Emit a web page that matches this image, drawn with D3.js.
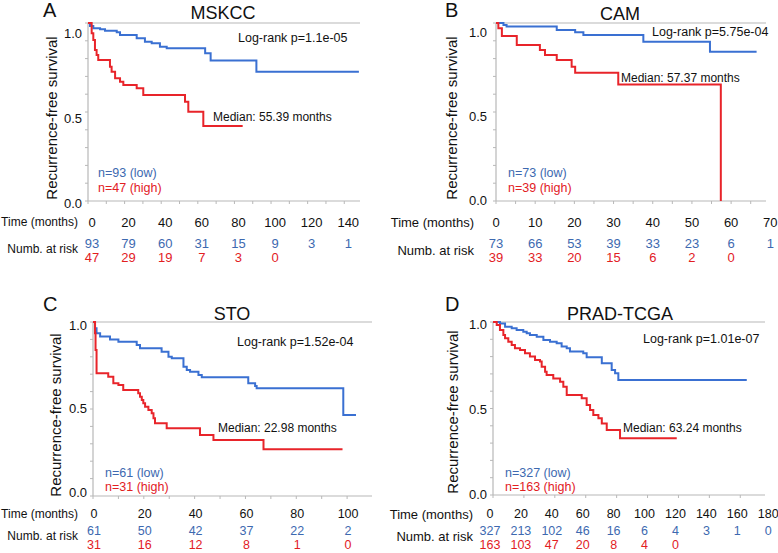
<!DOCTYPE html>
<html>
<head>
<meta charset="utf-8">
<script src="https://cdn.jsdelivr.net/npm/d3@7"></script>
<style>
  body { margin: 0; background: #fff; }
  svg { display: block; font-family: "Liberation Sans", Arial, sans-serif; }
</style>
</head>
<body>
<svg id="chart" width="778" height="553"></svg>
<script>
// ---------------- data ----------------
// survival curves: [months, survival]
const mskccLow = [[0,1],[1.1,0.983],[2.9,0.971],[6.6,0.965],[9.3,0.957],[15.7,0.948],[17.5,0.933],[26.6,0.914],[31.1,0.895],[34.8,0.886],[39.3,0.867],[43,0.858],[64,0.83],[67,0.79],[92,0.726],[148,0.726]];
const mskccHigh = [[0,1],[2.0,0.942],[2.9,0.904],[3.8,0.848],[4.7,0.82],[5.6,0.792],[12,0.754],[12.9,0.726],[14.8,0.689],[17.5,0.67],[19.3,0.652],[26.6,0.633],[30.2,0.596],[53,0.558],[54.8,0.502],[63,0.421],[84.5,0.421]];

const camLow = [[0,1],[1.9,0.989],[2.7,0.98],[15.5,0.961],[20.2,0.948],[22.3,0.933],[37.6,0.895],[54.6,0.839],[66.5,0.839]];
const camHigh = [[0,1],[0.6,0.971],[1.5,0.927],[5.3,0.876],[11.2,0.848],[12.5,0.82],[15.5,0.792],[19.3,0.754],[20.2,0.72],[31.2,0.655],[57.37,0],[57.37,0]];

const stoLow = [[0,1],[0.8,0.964],[1.4,0.935],[2.8,0.916],[6.7,0.9],[10,0.887],[17.2,0.868],[18.5,0.849],[27,0.829],[29.7,0.801],[31,0.791],[35.6,0.743],[36.9,0.724],[38.2,0.714],[41.5,0.695],[42.8,0.682],[61.1,0.648],[63.8,0.632],[64.4,0.619],[98.5,0.466],[103.5,0.466]];
const stoHigh = [[0,1],[0.8,0.935],[1.0,0.839],[1.4,0.705],[6.0,0.686],[8.0,0.648],[10,0.638],[11.9,0.609],[17.8,0.59],[18.5,0.571],[19.2,0.552],[19.8,0.533],[20.5,0.513],[21.8,0.494],[23.1,0.475],[23.8,0.447],[24.4,0.418],[29,0.389],[42.1,0.351],[47.4,0.322],[67.1,0.268],[98.2,0.268]];

const tcgaLow = [[0,1],[4.5,0.992],[7.8,0.973],[12.1,0.964],[15.3,0.954],[19.6,0.944],[21.8,0.935],[23.9,0.925],[28.3,0.915],[32.6,0.896],[36.9,0.886],[41.2,0.877],[44.4,0.858],[47.7,0.848],[49.8,0.829],[58.4,0.819],[60.6,0.796],[70.4,0.761],[76.8,0.723],[79,0.704],[81.1,0.665],[164.2,0.665]];
const tcgaHigh = [[0,1],[2.4,0.983],[4.5,0.954],[6.7,0.925],[7.8,0.906],[9.9,0.886],[12.1,0.867],[14.2,0.848],[17.5,0.838],[20.7,0.819],[23.9,0.8],[27.2,0.78],[30.4,0.771],[31.5,0.742],[33.7,0.713],[34.7,0.694],[39,0.674],[43.4,0.655],[45.5,0.626],[47.7,0.578],[57.4,0.559],[60.6,0.52],[62.8,0.491],[64.9,0.462],[68.2,0.443],[70.4,0.414],[73.6,0.376],[82.2,0.328],[118.9,0.328]];

// time ticks and numbers at risk
const timeTicksA = [0, 20, 40, 60, 80, 100, 120, 140];
const riskLowA = [93, 79, 60, 31, 15, 9, 3, 1];
const riskHighA = [47, 29, 19, 7, 3, 0];

const timeTicksB = [0, 10, 20, 30, 40, 50, 60, 70];
const riskLowB = [73, 66, 53, 39, 33, 23, 6, 1];
const riskHighB = [39, 33, 20, 15, 6, 2, 0];

const timeTicksC = [0, 20, 40, 60, 80, 100];
const riskLowC = [61, 50, 42, 37, 22, 2];
const riskHighC = [31, 16, 12, 8, 1, 0];

const timeTicksD = [0, 20, 40, 60, 80, 100, 120, 140, 160, 180];
const riskLowD = [327, 213, 102, 46, 16, 6, 4, 3, 1, 0];
const riskHighD = [163, 103, 47, 20, 8, 4, 0];

const panelLetters = ["A", "B", "C", "D"];
const panelTitles = ["MSKCC", "CAM", "STO", "PRAD-TCGA"];
const logRankLabels = ["Log-rank p=1.1e-05", "Log-rank p=5.75e-04", "Log-rank p=1.52e-04", "Log-rank p=1.01e-07"];
const medianLabels = ["Median: 55.39 months", "Median: 57.37 months", "Median: 22.98 months", "Median: 63.24 months"];
const lowLabels = ["n=93 (low)", "n=73 (low)", "n=61 (low)", "n=327 (low)"];
const highLabels = ["n=47 (high)", "n=39 (high)", "n=31 (high)", "n=163 (high)"];
const yTicks = [0, 0.5, 1.0];

// ---------------- colors ----------------
const blueLine = "#3a70d2";
const redLine = "#e8242a";
const blueText = "#3d69b0";
const redText = "#e2201f";
const axisGray = "#b8b8b8";

// ---------------- layout ----------------
const panels = [
  { low: mskccLow, high: mskccHigh, ticks: timeTicksA, rLow: riskLowA, rHigh: riskHighA,
    x0: 88, x1: 360, top: 23, bottom: 201, xMax: 148.6, minorX: 10,
    yLab: [203, 33], yLabRight: 82, labOff: 4,
    letter: [43, 17], title: [223, 19], logRank: [238, 38], median: [213, 117],
    nText: [98, 173, 188], yTitle: [52, 118],
    tableRight: 78, tableFont: 12, numFont: 13, timeY: 222, riskY: [243, 257], riskLabelY: 249 },
  { low: camLow, high: camHigh, ticks: timeTicksB, rLow: riskLowB, rHigh: riskHighB,
    x0: 496, x1: 766, top: 23, bottom: 201, xMax: 68.9, minorX: 5,
    yLab: [200, 32], yLabRight: 487, labOff: 0,
    letter: [445, 17], title: [620, 20], logRank: [652, 32], median: [621, 78],
    nText: [508, 173, 188], yTitle: [452, 118],
    tableRight: 474, tableFont: 13, numFont: 13, timeY: 222, riskY: [243, 257], riskLabelY: 250 },
  { low: stoLow, high: stoHigh, ticks: timeTicksC, rLow: riskLowC, rHigh: riskHighC,
    x0: 93, x1: 372, top: 322, bottom: 496, xMax: 109.8, minorX: 10,
    yLab: [492, 325], yLabRight: 87, labOff: 1,
    letter: [43, 311], title: [232, 320], logRank: [237, 342], median: [218, 428],
    nText: [105, 473, 487], yTitle: [56, 415],
    tableRight: 78, tableFont: 12, numFont: 12.5, timeY: 514, riskY: [531, 545], riskLabelY: 536 },
  { low: tcgaLow, high: tcgaHigh, ticks: timeTicksD, rLow: riskLowD, rHigh: riskHighD,
    x0: 493, x1: 765, top: 322, bottom: 495, xMax: 176, minorX: 20,
    yLab: [494, 324], yLabRight: 487, labOff: -3,
    letter: [445, 311], title: [620, 320], logRank: [643, 339], median: [623, 428],
    nText: [505, 473, 487], yTitle: [453, 412],
    tableRight: 473, tableFont: 13, numFont: 12.5, timeY: 514, riskY: [531, 545], riskLabelY: 536 }
];

const svg = d3.select("#chart");

panels.forEach((p, i) => {
  const g = svg.append("g");

  const x = d3.scaleLinear().domain([0, p.xMax]).range([p.x0, p.x1]);
  const y = d3.scaleLinear().domain([0, 1]).range([p.bottom, p.top]);
  const yLabel = d3.scaleLinear().domain([0, 1]).range(p.yLab);

  // frame: top line, left axis, bottom axis
  g.append("line").attr("x1", p.x0).attr("x2", p.x1).attr("y1", p.top).attr("y2", p.top)
    .attr("stroke", axisGray).attr("stroke-width", 1.2);
  g.append("line").attr("x1", p.x0).attr("x2", p.x0).attr("y1", p.top).attr("y2", p.bottom)
    .attr("stroke", axisGray).attr("stroke-width", 1.2);
  g.append("line").attr("x1", p.x0).attr("x2", p.x1).attr("y1", p.bottom).attr("y2", p.bottom)
    .attr("stroke", axisGray).attr("stroke-width", 1.2);

  // minor ticks
  const xMinor = d3.range(0, p.xMax + 0.01, p.minorX);
  g.selectAll(".xt").data(xMinor).join("line")
    .attr("x1", d => x(d)).attr("x2", d => x(d))
    .attr("y1", p.bottom).attr("y2", p.bottom + 3)
    .attr("stroke", axisGray);
  const yMinor = d3.range(0, 1.001, 0.1);
  g.selectAll(".yt").data(yMinor).join("line")
    .attr("x1", p.x0 - 3).attr("x2", p.x0)
    .attr("y1", d => y(d)).attr("y2", d => y(d))
    .attr("stroke", axisGray);

  // y tick labels
  g.selectAll(".yl").data(yTicks).join("text")
    .attr("x", p.yLabRight).attr("y", d => yLabel(d)).attr("dy", "0.35em")
    .attr("text-anchor", "end").attr("font-size", 13).attr("fill", "#111")
    .text(d3.format(".1f"));

  // y title
  g.append("text")
    .attr("transform", `translate(${p.yTitle[0]},${p.yTitle[1]}) rotate(-90)`)
    .attr("text-anchor", "middle").attr("dy", "0.35em")
    .attr("font-size", 15).attr("fill", "#111")
    .text("Recurrence-free survival");

  // curves
  const line = d3.line().x(d => x(d[0])).y(d => y(d[1])).curve(d3.curveStepAfter);
  g.append("path").datum(p.low).attr("d", line)
    .attr("fill", "none").attr("stroke", blueLine).attr("stroke-width", 2);
  g.append("path").datum(p.high).attr("d", line)
    .attr("fill", "none").attr("stroke", redLine).attr("stroke-width", 2);

  // panel letter and title
  g.append("text").attr("x", p.letter[0]).attr("y", p.letter[1])
    .attr("font-size", 20).attr("fill", "#111").text(panelLetters[i]);
  g.append("text").attr("x", p.title[0]).attr("y", p.title[1])
    .attr("text-anchor", "middle").attr("font-size", 18).attr("fill", "#111").text(panelTitles[i]);

  // annotations
  g.append("text").attr("x", p.logRank[0]).attr("y", p.logRank[1]).attr("dy", "0.35em")
    .attr("font-size", 12.5).attr("fill", "#111").text(logRankLabels[i]);
  g.append("text").attr("x", p.median[0]).attr("y", p.median[1]).attr("dy", "0.35em")
    .attr("font-size", 12).attr("fill", "#111").text(medianLabels[i]);
  g.append("text").attr("x", p.nText[0]).attr("y", p.nText[1]).attr("dy", "0.35em")
    .attr("font-size", 12.5).attr("fill", blueText).text(lowLabels[i]);
  g.append("text").attr("x", p.nText[0]).attr("y", p.nText[2]).attr("dy", "0.35em")
    .attr("font-size", 12.5).attr("fill", redText).text(highLabels[i]);

  // table below
  g.append("text").attr("x", p.tableRight).attr("y", p.timeY).attr("dy", "0.35em")
    .attr("text-anchor", "end").attr("font-size", p.tableFont).attr("fill", "#111").text("Time (months)");
  g.append("text").attr("x", p.tableRight).attr("y", p.riskLabelY).attr("dy", "0.35em")
    .attr("text-anchor", "end").attr("font-size", p.tableFont).attr("fill", "#111").text("Numb. at risk");

  const colX = t => x(t) + p.labOff;
  g.selectAll(".tl").data(p.ticks).join("text")
    .attr("x", colX).attr("y", p.timeY).attr("dy", "0.35em")
    .attr("text-anchor", "middle").attr("font-size", p.numFont).attr("fill", "#111")
    .text(d => d);
  g.selectAll(".rl").data(p.rLow).join("text")
    .attr("x", (d, j) => colX(p.ticks[j])).attr("y", p.riskY[0]).attr("dy", "0.35em")
    .attr("text-anchor", "middle").attr("font-size", p.numFont).attr("fill", blueText)
    .text(d => d);
  g.selectAll(".rh").data(p.rHigh).join("text")
    .attr("x", (d, j) => colX(p.ticks[j])).attr("y", p.riskY[1]).attr("dy", "0.35em")
    .attr("text-anchor", "middle").attr("font-size", p.numFont).attr("fill", redText)
    .text(d => d);
});
</script>
</body>
</html>
